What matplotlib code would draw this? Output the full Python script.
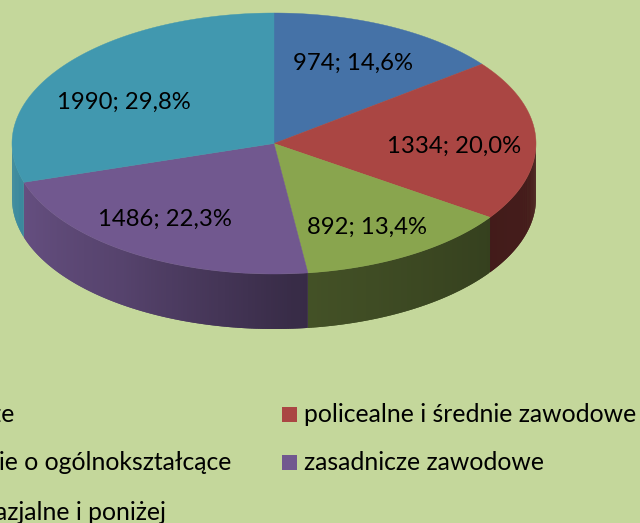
import numpy as np
import matplotlib
matplotlib.use("Agg")
import matplotlib.pyplot as plt
from matplotlib.patches import Polygon, Rectangle

plt.rcParams['font.family'] = ['Lato', 'DejaVu Sans']

# data, clockwise from 12 o'clock
categories = ['wyższe', 'policealne i średnie zawodowe', 'średnie o ogólnokształcące',
              'zasadnicze zawodowe', 'gimnazjalne i poniżej']
values = [974, 1334, 892, 1486, 1990]
percents = ['14,6%', '20,0%', '13,4%', '22,3%', '29,8%']
colors = ['#4572A7', '#AA4643', '#89A54E', '#71588F', '#4198AF']

bg = '#C4D79B'
cx, cy = 274, 143.5
rx, ry = 262, 130.5
depth = 55
label_size = 17.2
legend_size = 17.8

label_pos = [(353, 63), (454, 146), (367, 227.5), (165, 219.5), (124, 102.5)]
legend_left = [(15, 415), (231, 463), (166, 512)]
legend_right = [(304, 415), (304, 463)]

fig = plt.figure(figsize=(6.4, 5.23), dpi=100, facecolor=bg)
ax = fig.add_axes([0, 0, 1, 1])
ax.set_xlim(0, 640)
ax.set_ylim(523, 0)
ax.axis('off')


def ell(t):
    return cx + rx * np.sin(t), cy - ry * np.cos(t)


edges = np.radians(np.concatenate([[0], np.cumsum(values)]) / sum(values) * 360)

# side of the pie, shaded strip by strip (each strip overlaps the next so no seams show)
shade_deg = [90, 125, 176, 215, 253, 270]
shade_val = [0.42, 0.39, 0.50, 0.76, 0.90, 0.92]
for i, col in enumerate(colors):
    a0 = max(edges[i], np.pi / 2)
    a1 = min(edges[i + 1], 3 * np.pi / 2)
    if a1 <= a0:
        continue
    base = np.array(matplotlib.colors.to_rgb(col))
    steps = np.linspace(a0, a1, max(int(np.degrees(a1 - a0) * 2), 3))
    for j in range(len(steps) - 1):
        s0 = steps[j]
        s1 = steps[min(j + 2, len(steps) - 1)]
        f = np.interp(np.degrees(steps[j]), shade_deg, shade_val)
        x0, y0 = ell(s0)
        xm, ym = ell((s0 + s1) / 2)
        x1, y1 = ell(s1)
        ax.add_patch(Polygon([(x0, y0), (xm, ym), (x1, y1), (x1, y1 + depth),
                              (xm, ym + depth), (x0, y0 + depth)],
                             closed=True, fc=base * f, ec='none'))

# top face
for i, col in enumerate(colors):
    t = np.linspace(edges[i], edges[i + 1], 200)
    x, y = ell(t)
    pts = np.column_stack([np.r_[cx, x], np.r_[cy, y]])
    ax.add_patch(Polygon(pts, closed=True, fc=col, ec=col, lw=0.3))

# data labels
for (lx, ly), v, p in zip(label_pos, values, percents):
    ax.text(lx, ly, f'{v}; {p}', ha='center', va='center', fontsize=label_size, color='black')

# legend, left column runs off the picture
for (tx, ty), name in zip(legend_left, [categories[0], categories[2], categories[4]]):
    ax.text(tx, ty, name, ha='right', va='center', fontsize=legend_size, color='black')
for (sx, sy), name, col in zip(legend_right, [categories[1], categories[3]], [colors[1], colors[3]]):
    ax.add_patch(Rectangle((sx - 22, sy - 8), 15, 15, fc=col, ec='none'))
    ax.text(sx, sy, name, ha='left', va='center', fontsize=legend_size, color='black')

fig.savefig('out.png', dpi=100, facecolor=bg)
